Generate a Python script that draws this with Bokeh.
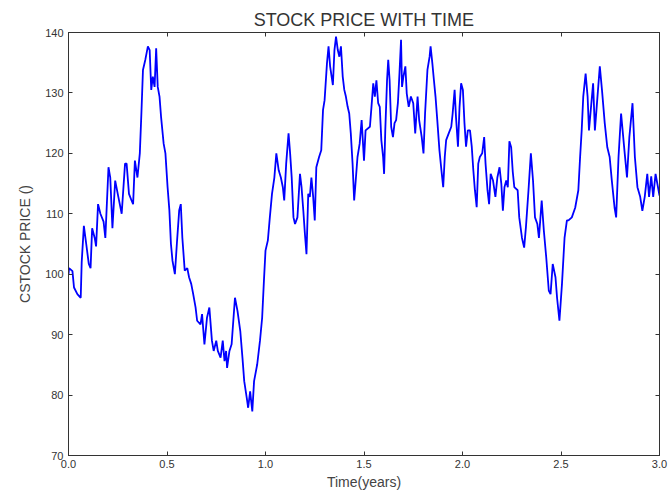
from bokeh.plotting import figure
from bokeh.models import (LinearAxis, FixedTicker, Range1d, PrintfTickFormatter,
                          ColumnDataSource, CustomJSTickFormatter)
from bokeh.embed import file_html
from bokeh.resources import INLINE

TITLE = "STOCK PRICE WITH TIME"
X_LABEL = "Time(years)"
Y_LABEL = "CSTOCK PRICE ()"
x_ticks = [0.0, 0.5, 1.0, 1.5, 2.0, 2.5, 3.0]
y_ticks = [70, 80, 90, 100, 110, 120, 130, 140]

t_a = [0.000, 0.003, 0.020, 0.028, 0.045, 0.062, 0.067, 0.078, 0.090, 0.103,
       0.112, 0.120, 0.133, 0.140, 0.150, 0.162, 0.178, 0.187, 0.203, 0.212,
       0.223, 0.237, 0.253, 0.270, 0.287, 0.295, 0.307, 0.320, 0.328, 0.337,
       0.350, 0.362, 0.370, 0.378, 0.390, 0.403, 0.412, 0.420, 0.428, 0.437,
       0.445, 0.453, 0.462, 0.470, 0.483, 0.492, 0.503, 0.512, 0.520, 0.528,
       0.540, 0.550, 0.562, 0.570, 0.578, 0.590, 0.603, 0.612, 0.623, 0.633,
       0.645, 0.653, 0.670, 0.678, 0.690, 0.703, 0.715, 0.728, 0.737]
p_a = [100.0, 101.0, 100.5, 97.8, 96.7, 96.1, 102.0, 108.0, 105.0, 101.7,
       101.0, 107.6, 106.0, 104.6, 111.6, 110.0, 108.7, 106.0, 117.7, 116.0,
       107.6, 115.5, 112.8, 110.0, 118.3, 118.3, 113.3, 112.2, 111.6, 118.8,
       116.0, 120.0, 126.6, 133.8, 135.5, 137.7, 137.1, 130.5, 132.7, 131.0,
       137.4, 131.0, 129.4, 126.0, 121.6, 120.0, 114.4, 110.6, 105.0, 102.2,
       100.0, 105.0, 110.6, 111.6, 106.0, 100.6, 101.0, 99.5, 98.4, 96.7,
       94.5, 92.3, 91.7, 93.4, 88.4, 92.8, 94.5, 89.0, 87.3]

t_b = [0.750, 0.758, 0.772, 0.783, 0.792, 0.800, 0.805, 0.817, 0.828, 0.845,
       0.858, 0.872, 0.883, 0.892, 0.905, 0.912, 0.922, 0.933, 0.942, 0.958,
       0.972, 0.983, 0.992, 1.000, 1.012, 1.022, 1.033, 1.045, 1.055, 1.067,
       1.078, 1.088, 1.095, 1.105, 1.117, 1.125, 1.133, 1.142, 1.150, 1.162,
       1.175, 1.183, 1.192, 1.200, 1.208, 1.217, 1.225, 1.233, 1.242, 1.250,
       1.258, 1.272, 1.283, 1.292, 1.300, 1.312, 1.320, 1.328, 1.342, 1.350,
       1.358, 1.367, 1.375, 1.383, 1.392, 1.400, 1.408, 1.417, 1.425, 1.433,
       1.442, 1.450, 1.458, 1.467, 1.478, 1.488, 1.500, 1.508]
p_b = [89.0, 87.3, 86.2, 89.0, 85.6, 87.3, 84.5, 87.3, 88.4, 96.1,
       93.9, 90.6, 86.2, 82.3, 79.5, 77.9, 80.6, 77.3, 82.3, 85.1,
       89.0, 92.8, 98.9, 103.9, 105.6, 109.4, 113.3, 116.0, 120.0, 117.2,
       116.0, 114.4, 112.2, 118.3, 123.3, 120.0, 116.0, 109.4, 108.3, 109.4,
       116.6, 114.4, 110.5, 106.7, 103.3, 113.3, 112.8, 116.0, 112.8, 108.9,
       117.7, 119.4, 120.5, 127.2, 128.8, 134.9, 137.7, 134.4, 131.3, 137.1,
       139.3, 137.1, 136.0, 137.7, 132.7, 130.5, 129.4, 127.7, 126.6, 123.3,
       118.3, 112.2, 115.5, 119.4, 121.6, 125.5, 118.8, 123.8]

t_c = [1.530, 1.538, 1.547, 1.555, 1.563, 1.572, 1.580, 1.588, 1.597, 1.602,
       1.608, 1.617, 1.623, 1.630, 1.638, 1.647, 1.655, 1.663, 1.672, 1.680,
       1.688, 1.693, 1.700, 1.710, 1.717, 1.727, 1.738, 1.750, 1.760, 1.772,
       1.780, 1.793, 1.802, 1.810, 1.822, 1.833, 1.838, 1.847, 1.855, 1.863,
       1.872, 1.883, 1.893, 1.902, 1.910, 1.917, 1.930, 1.943, 1.950, 1.960,
       1.967, 1.977, 1.985, 1.993, 2.002, 2.010, 2.018, 2.027, 2.038, 2.047,
       2.055, 2.063, 2.072, 2.080, 2.088, 2.100, 2.110, 2.117, 2.127, 2.135,
       2.143, 2.155, 2.167, 2.177, 2.188, 2.197, 2.205, 2.213, 2.222, 2.230,
       2.238, 2.247, 2.255, 2.263]
p_c = [124.4, 127.7, 131.6, 129.4, 132.1, 128.3, 127.7, 122.2, 119.4, 116.6,
       123.8, 132.1, 135.5, 132.1, 124.4, 122.7, 125.0, 125.5, 128.3, 133.2,
       138.8, 131.0, 132.7, 134.4, 129.9, 127.7, 129.4, 128.3, 123.3, 129.4,
       125.5, 122.7, 120.0, 126.6, 133.8, 136.0, 137.7, 134.9, 132.1, 129.4,
       125.5, 120.5, 117.2, 114.4, 119.4, 122.2, 123.3, 124.4, 126.6, 130.5,
       126.0, 121.1, 127.7, 131.6, 130.5, 125.0, 121.1, 123.8, 123.8, 121.1,
       117.2, 113.9, 111.1, 118.3, 119.4, 120.0, 122.7, 118.3, 113.9, 111.6,
       116.6, 115.5, 112.8, 116.0, 117.7, 115.0, 110.5, 114.4, 115.5, 114.4,
       122.0, 121.0, 117.0, 114.4]

t_d = [2.280, 2.288, 2.302, 2.313, 2.322, 2.335, 2.347, 2.358, 2.368, 2.380,
       2.388, 2.402, 2.413, 2.425, 2.438, 2.447, 2.458, 2.472, 2.480, 2.492,
       2.505, 2.518, 2.530, 2.538, 2.555, 2.572, 2.588, 2.597, 2.605, 2.613,
       2.625, 2.635, 2.642, 2.663, 2.672, 2.697, 2.708, 2.722, 2.735, 2.747,
       2.758, 2.772, 2.780, 2.792, 2.805, 2.822, 2.835, 2.847, 2.863, 2.875,
       2.888, 2.902, 2.913, 2.925, 2.938, 2.947, 2.958, 2.968, 2.980, 3.000]
p_d = [113.9, 109.4, 106.0, 104.4, 107.8, 113.9, 120.0, 115.5, 109.4, 108.3,
       106.0, 112.2, 107.2, 102.8, 97.3, 96.7, 101.7, 99.5, 96.1, 92.3,
       98.4, 106.0, 108.9, 108.9, 109.4, 111.0, 113.9, 119.4, 123.8, 129.4,
       133.2, 129.4, 123.8, 131.6, 123.8, 134.4, 130.5, 125.0, 121.0, 119.4,
       115.5, 111.0, 109.4, 119.4, 126.6, 120.5, 116.0, 122.7, 128.3, 119.4,
       114.4, 112.8, 110.5, 112.8, 116.6, 112.8, 116.2, 112.8, 116.6, 113.0]

time_years = t_a + t_b + t_c + t_d
price = p_a + p_b + p_c + p_d

FONT = "Liberation Sans"
TXT = "#333333"

p = figure(width=670, height=493,
           x_range=Range1d(0, 3), y_range=Range1d(70, 140),
           output_backend="svg", toolbar_location=None,
           min_border_left=68, min_border_right=11,
           min_border_top=32, min_border_bottom=38)
p.background_fill_color = "white"
p.border_fill_color = "white"
p.outline_line_color = "#333333"
p.outline_line_width = 1
p.xgrid.visible = False
p.ygrid.visible = False

p.title.text = TITLE
p.title.align = "center"
p.title.text_font = FONT
p.title.text_font_size = "18px"
p.title.text_font_style = "normal"
p.title.text_color = "#333333"
p.title.standoff = 6

src = ColumnDataSource(data=dict(t=time_years, price=price))
p.line("t", "price", source=src, line_color="#0000ff", line_width=1.8)


def style_axis(ax, ticks, show_labels):
    ax.ticker = FixedTicker(ticks=ticks)
    ax.major_tick_in = 4
    ax.major_tick_out = 0
    ax.minor_tick_line_color = None
    ax.axis_line_color = "#333333"
    ax.major_tick_line_color = "#333333"
    ax.major_label_text_font = FONT
    ax.major_label_text_color = TXT
    ax.axis_label_text_font = FONT
    ax.axis_label_text_font_style = "normal"
    ax.axis_label_text_color = "#444444"
    if not show_labels:
        ax.formatter = CustomJSTickFormatter(code="return '';")
        ax.major_label_standoff = 0


xa = p.xaxis[0]
style_axis(xa, x_ticks, True)
xa.formatter = PrintfTickFormatter(format="%.1f")
xa.major_label_text_font_size = "11px"
xa.major_label_standoff = 4
xa.axis_label = X_LABEL
xa.axis_label_text_font_size = "14px"
xa.axis_label_standoff = 3

ya = p.yaxis[0]
style_axis(ya, y_ticks, True)
ya.major_label_text_font_size = "11px"
ya.major_label_standoff = 5
ya.axis_label = Y_LABEL
ya.axis_label_text_font_size = "14px"
ya.axis_label_standoff = 9

top = LinearAxis()
style_axis(top, x_ticks, False)
p.add_layout(top, "above")
right = LinearAxis()
style_axis(right, y_ticks, False)
p.add_layout(right, "right")

open("out.html", "w").write(file_html(p, INLINE))
